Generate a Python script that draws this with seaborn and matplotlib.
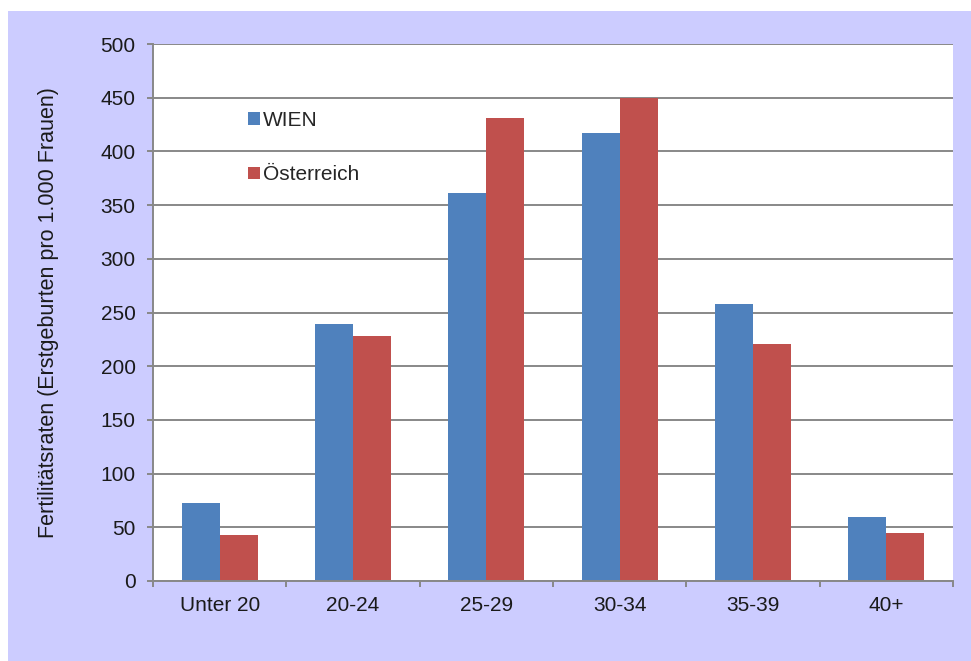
import matplotlib
matplotlib.use("Agg")
import matplotlib.pyplot as plt
import seaborn as sns
import pandas as pd
from matplotlib.patches import Rectangle, Patch

categories = ["Unter 20", "20-24", "25-29", "30-34", "35-39", "40+"]
wien = [73, 239, 361, 417, 258, 60]
oesterreich = [43, 228, 431, 450, 221, 45]
series_names = ["WIEN", "Österreich"]
colors = ["#4F81BD", "#C0504D"]
yticks = [0, 50, 100, 150, 200, 250, 300, 350, 400, 450, 500]

df = pd.DataFrame({
    "cat": categories * 2,
    "val": wien + oesterreich,
    "series": [series_names[0]] * len(categories) + [series_names[1]] * len(categories),
})

sns.set_theme(style="white")
plt.rcParams['font.family'] = ['Liberation Sans', 'DejaVu Sans']

fig = plt.figure(figsize=(9.71, 6.61), dpi=100)
fig.patch.set_facecolor("white")
fig.patches.append(Rectangle((8/971, 0), 1 - 8/971, 1 - 11/661, transform=fig.transFigure,
                             facecolor="#CCCCFF", edgecolor="none", zorder=-5))
ax = fig.add_axes([153/971, 1 - 581/661, 800/971, 537/661])
ax.set_facecolor("white")

sns.barplot(data=df, x="cat", y="val", hue="series", palette=colors, width=0.57,
            saturation=1, ax=ax, legend=False, edgecolor="none", linewidth=0, zorder=3)

ax.set_ylim(0, 500)
ax.set_xlim(-0.5, 5.5)
ax.set_yticks(yticks)
ax.grid(axis="y", color="#888888", linewidth=1.4, zorder=0)
ax.set_axisbelow(True)
for s in ["top", "right"]:
    ax.spines[s].set_visible(False)
for s in ["left", "bottom"]:
    ax.spines[s].set_color("#888888")
    ax.spines[s].set_linewidth(1.4)
    ax.spines[s].set_zorder(4)

ax.tick_params(axis="y", which="major", direction="out", length=4.5, width=1.4, color="#888888",
               labelsize=15, pad=8, left=True, labelcolor="#1a1a1a")
ax.tick_params(axis="x", which="major", length=0, labelsize=15, pad=11, labelcolor="#1a1a1a")
ax.set_xticks([i - 0.5 for i in range(len(categories) + 1)], minor=True)
ax.tick_params(axis="x", which="minor", direction="out", length=4.5, width=1.4, color="#888888", bottom=True)

ax.set_xlabel("")
ax.set_ylabel("Fertilitätsraten (Erstgeburten pro 1.000 Frauen)", fontsize=15.5, labelpad=30, color="#1a1a1a")

handles = [Patch(facecolor=c, edgecolor="none") for c in colors]
ax.legend(handles, series_names, loc="upper left", bbox_to_anchor=(0.106, 0.895), frameon=False,
          fontsize=15, handlelength=0.55, handleheight=0.55, handletextpad=0.15, labelspacing=1.7,
          borderpad=0)

fig.savefig("out.png", dpi=100)
